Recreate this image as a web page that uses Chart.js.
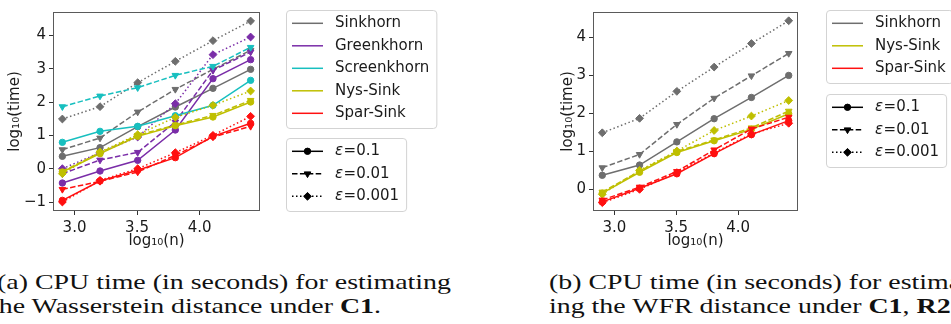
<!DOCTYPE html>
<html><head><meta charset="utf-8">
<script src="https://cdn.jsdelivr.net/npm/chart.js@4/dist/chart.umd.min.js"></script>
<style>
html,body{margin:0;padding:0;background:#fff}
body{width:951px;height:324px;overflow:hidden;position:relative}
canvas{position:absolute;top:0}
#ca{left:0}
#cb{left:475px}
.cap{position:absolute;font-family:"Liberation Serif","DejaVu Serif",serif;font-size:22px;line-height:1;white-space:nowrap;color:#111;transform-origin:0 0}
</style></head><body>
<canvas id="ca" width="475" height="250"></canvas>
<canvas id="cb" width="476" height="250"></canvas>
<div class="cap" id="a1" style="left:-3px;top:271px">(a) CPU time (in seconds) for estimating</div>
<div class="cap" id="a2" style="left:-9px;top:295px">the Wasserstein distance under <b>C1</b>.</div>
<div class="cap" id="b1" style="left:549px;top:271px">(b) CPU time (in seconds) for estimat-</div>
<div class="cap" id="b2" style="left:549px;top:295px">ing the WFR distance under <b>C1</b>, <b>R2</b>.</div>
<script>
// ---------- data ----------
const logN = [2.903, 3.204, 3.505, 3.806, 4.107, 4.408];
const xTicks = [3.0, 3.5, 4.0];
const yTicksA = [-1, 0, 1, 2, 3, 4];
const yTicksB = [0, 1, 2, 3, 4];
const epsLabels = ['ε=0.1', 'ε=0.01', 'ε=0.001'];
const methodsA = ['Sinkhorn', 'Greenkhorn', 'Screenkhorn', 'Nys-Sink', 'Spar-Sink'];
const methodsB = ['Sinkhorn', 'Nys-Sink', 'Spar-Sink'];

// panel (a): Wasserstein, C1
const aSinkhorn1   = [0.37, 0.63, 1.26, 1.85, 2.41, 2.98];
const aSinkhorn2   = [0.57, 0.92, 1.70, 2.38, 2.98, 3.55];
const aSinkhorn3   = [1.49, 1.86, 2.58, 3.22, 3.84, 4.43];
const aGreenkhorn1 = [-0.43, -0.07, 0.25, 1.16, 2.70, 3.27];
const aGreenkhorn2 = [-0.15, 0.26, 0.49, 1.40, 2.95, 3.50];
const aGreenkhorn3 = [0.00, 0.48, 0.95, 1.95, 3.42, 3.95];
const aScreenkhorn1 = [0.79, 1.12, 1.27, 1.59, 1.90, 2.65];
const aScreenkhorn2 = [1.86, 2.18, 2.43, 2.80, 3.07, 3.64];
const aNys1  = [-0.10, 0.45, 0.97, 1.29, 1.55, 2.00];
const aNys2  = [-0.08, 0.48, 1.00, 1.31, 1.60, 2.05];
const aNys3  = [-0.15, 0.50, 1.02, 1.54, 1.90, 2.33];
const aSpar1 = [-0.95, -0.37, -0.05, 0.33, 0.97, 1.36];
const aSpar2 = [-0.62, -0.38, -0.10, 0.40, 0.95, 1.27];
const aSpar3 = [-1.00, -0.35, 0.00, 0.48, 1.00, 1.57];

// panel (b): WFR, C1, R2
const bSinkhorn1 = [0.37, 0.64, 1.25, 1.86, 2.42, 3.00];
const bSinkhorn2 = [0.57, 0.92, 1.71, 2.40, 2.99, 3.58];
const bSinkhorn3 = [1.49, 1.87, 2.58, 3.22, 3.84, 4.44];
const bNys1  = [-0.10, 0.45, 0.97, 1.28, 1.58, 1.99];
const bNys2  = [-0.07, 0.48, 1.00, 1.30, 1.62, 2.06];
const bNys3  = [-0.13, 0.50, 1.01, 1.55, 1.93, 2.34];
const bSpar1 = [-0.33, 0.03, 0.41, 0.94, 1.44, 1.81];
const bSpar2 = [-0.28, 0.06, 0.47, 1.04, 1.59, 1.90];
const bSpar3 = [-0.35, 0.00, 0.44, 0.96, 1.46, 1.74];

// ---------- styles ----------
const COLORS = {
  'Sinkhorn': '#6e6e6e', 'Greenkhorn': '#7a2da8', 'Screenkhorn': '#17bfbf',
  'Nys-Sink': '#bfbf00', 'Spar-Sink': '#ff1010'
};
const EPS_STYLE = [
  { dash: [], pointStyle: 'circle', rot: 0, r: 3.2 },
  { dash: [5.5, 2.4], pointStyle: 'triangle', rot: 180, r: 3.8 },
  { dash: [1.5, 2.5], pointStyle: 'rectRot', rot: 0, r: 3.9 }
];
const FONT = '"DejaVu Sans", sans-serif';

function ds(method, epsIdx, vals) {
  const c = COLORS[method], s = EPS_STYLE[epsIdx];
  return {
    label: method + ' ' + epsLabels[epsIdx],
    data: logN.map((x, i) => ({ x: x, y: vals[i] })),
    borderColor: c, backgroundColor: c, borderWidth: 1.5,
    borderDash: s.dash, pointStyle: s.pointStyle, pointRotation: s.rot,
    pointRadius: s.r, pointBorderWidth: 1, pointBackgroundColor: c, pointBorderColor: c,
    tension: 0, fill: false
  };
}
function withOrder(list) {
  const n = list.length;
  list.forEach((d, i) => d.order = n - i);
  return list;
}

const dsA = withOrder([
  ds('Sinkhorn', 0, aSinkhorn1), ds('Sinkhorn', 1, aSinkhorn2), ds('Sinkhorn', 2, aSinkhorn3),
  ds('Greenkhorn', 0, aGreenkhorn1), ds('Greenkhorn', 1, aGreenkhorn2), ds('Greenkhorn', 2, aGreenkhorn3),
  ds('Screenkhorn', 0, aScreenkhorn1), ds('Screenkhorn', 1, aScreenkhorn2),
  ds('Nys-Sink', 0, aNys1), ds('Nys-Sink', 1, aNys2), ds('Nys-Sink', 2, aNys3),
  ds('Spar-Sink', 0, aSpar1), ds('Spar-Sink', 1, aSpar2), ds('Spar-Sink', 2, aSpar3)
]);
const dsB = withOrder([
  ds('Sinkhorn', 0, bSinkhorn1), ds('Sinkhorn', 1, bSinkhorn2), ds('Sinkhorn', 2, bSinkhorn3),
  ds('Nys-Sink', 0, bNys1), ds('Nys-Sink', 1, bNys2), ds('Nys-Sink', 2, bNys3),
  ds('Spar-Sink', 0, bSpar1), ds('Spar-Sink', 1, bSpar2), ds('Spar-Sink', 2, bSpar3)
]);

// ---------- legend drawing ----------
function roundRect(ctx, x, y, w, h, r) {
  ctx.beginPath();
  ctx.moveTo(x + r, y); ctx.lineTo(x + w - r, y); ctx.arcTo(x + w, y, x + w, y + r, r);
  ctx.lineTo(x + w, y + h - r); ctx.arcTo(x + w, y + h, x + w - r, y + h, r);
  ctx.lineTo(x + r, y + h); ctx.arcTo(x, y + h, x, y + h - r, r);
  ctx.lineTo(x, y + r); ctx.arcTo(x, y, x + r, y, r); ctx.closePath();
}
function drawLabel(ctx, text, x, y) {
  ctx.textBaseline = 'middle'; ctx.textAlign = 'left'; ctx.fillStyle = '#1a1a1a';
  if (text.startsWith('ε')) {
    ctx.font = 'italic 15px ' + FONT; ctx.fillText('ε', x, y);
    const w = ctx.measureText('ε').width;
    ctx.font = '15px ' + FONT; ctx.fillText(text.slice(1), x + w + 0.5, y);
    return;
  }
  ctx.font = '15px ' + FONT; ctx.fillText(text, x, y);
}
function measureLabel(ctx, text) {
  if (text.startsWith('ε')) {
    ctx.font = 'italic 15px ' + FONT; const w = ctx.measureText('ε').width;
    ctx.font = '15px ' + FONT; return w + 0.5 + ctx.measureText(text.slice(1)).width;
  }
  ctx.font = '15px ' + FONT; return ctx.measureText(text).width;
}
function drawLegend(ctx, L, T, items) {
  const rowH = 22.5;
  let tw = 0; items.forEach(it => tw = Math.max(tw, measureLabel(ctx, it.label)));
  const W = 49 + tw + 7;
  const H = items.length * rowH + 5.5;
  ctx.save();
  roundRect(ctx, L + 0.5, T + 0.5, W, H, 3.5);
  ctx.fillStyle = 'rgba(255,255,255,0.85)'; ctx.fill();
  ctx.strokeStyle = '#d3d3d3'; ctx.lineWidth = 1; ctx.stroke();
  items.forEach((it, i) => {
    const y = T + 13.3 + i * rowH;
    ctx.save();
    ctx.strokeStyle = it.color; ctx.lineWidth = 1.5; ctx.setLineDash(it.dash || []);
    ctx.beginPath(); ctx.moveTo(L + 6, y); ctx.lineTo(L + 37, y); ctx.stroke();
    ctx.setLineDash([]);
    if (it.marker) {
      ctx.fillStyle = it.color; ctx.strokeStyle = it.color; ctx.lineWidth = 1;
      Chart.helpers.drawPoint(ctx, { pointStyle: it.marker.pointStyle, rotation: it.marker.rot, radius: it.marker.r, borderWidth: 1 }, L + 21.5, y);
    }
    ctx.restore();
    drawLabel(ctx, it.label, L + 49, y);
  });
  ctx.restore();
}

function makePlugin(legends) {
  return {
    id: 'frameLegend',
    afterDatasetsDraw(chart) {
      const { ctx, chartArea: a } = chart;
      ctx.save();
      ctx.strokeStyle = '#5a5a5a'; ctx.lineWidth = 1;
      ctx.strokeRect(Math.round(a.left) + 0.5, Math.round(a.top) + 0.5, Math.round(a.right - a.left) - 1, Math.round(a.bottom - a.top) - 1);
      ctx.restore();
    },
    afterDraw(chart) {
      legends.forEach(lg => drawLegend(chart.ctx, lg.L, lg.T, lg.items));
    }
  };
}

function config(datasets, yMin, yMax, yTicks, yWidth, padLeft, padRight, yTitlePad, legends) {
  return {
    type: 'line',
    data: { datasets },
    options: {
      responsive: false, animation: false, devicePixelRatio: 1,
      layout: { padding: { top: 10, right: padRight, bottom: 0, left: padLeft } },
      plugins: { legend: { display: false }, tooltip: { enabled: false } },
      scales: {
        x: {
          type: 'linear', min: 2.828, max: 4.483,
          afterBuildTicks: s => { s.ticks = xTicks.map(v => ({ value: v })); },
          afterFit: s => { s.height = 39; },
          grid: { drawOnChartArea: false, drawTicks: true, tickLength: 4, tickColor: '#333', tickWidth: 1 },
          border: { display: false },
          ticks: { font: { family: FONT, size: 15 }, color: '#1a1a1a', padding: 4, maxRotation: 0, autoSkip: false,
                   callback: v => Number(v).toFixed(1) },
          title: { display: true, text: 'log₁₀(n)', color: '#1a1a1a', font: { family: FONT, size: 15 }, padding: { top: 0, bottom: 0 } }
        },
        y: {
          type: 'linear', min: yMin, max: yMax,
          afterBuildTicks: s => { s.ticks = yTicks.map(v => ({ value: v })); },
          afterFit: s => { s.width = yWidth; },
          grid: { drawOnChartArea: false, drawTicks: true, tickLength: 4, tickColor: '#333', tickWidth: 1 },
          border: { display: false },
          ticks: { font: { family: FONT, size: 15 }, color: '#1a1a1a', padding: 3, autoSkip: false,
                   callback: v => (v < 0 ? '\u2212' + Math.abs(v) : String(v)) },
          title: { display: true, text: 'log₁₀(time)', color: '#1a1a1a', font: { family: FONT, size: 15 }, padding: { top: yTitlePad, bottom: 0 } }
        }
      }
    },
    plugins: [makePlugin(legends)]
  };
}

const methodItems = names => names.map(n => ({ label: n, color: COLORS[n], dash: [] }));
const epsItems = epsLabels.map((l, i) => ({ label: l, color: '#000', dash: EPS_STYLE[i].dash, marker: EPS_STYLE[i] }));

new Chart(document.getElementById('ca'), config(dsA, -1.27, 4.70, yTicksA, 53, 0, 215, 6,
  [{ L: 286, T: 10, items: methodItems(methodsA) }, { L: 286, T: 138, items: epsItems }]));
new Chart(document.getElementById('cb'), config(dsB, -0.57, 4.67, yTicksB, 38, 80, 153, 4,
  [{ L: 351, T: 10, items: methodItems(methodsB) }, { L: 351, T: 94, items: epsItems }]));

(function () {
  const a1 = document.getElementById('a1');
  const k = 454 / a1.getBoundingClientRect().width;
  ['a1', 'a2', 'b1', 'b2'].forEach(id => {
    document.getElementById(id).style.transform = 'scaleX(' + k.toFixed(3) + ')';
  });
})();
</script>
</body></html>
